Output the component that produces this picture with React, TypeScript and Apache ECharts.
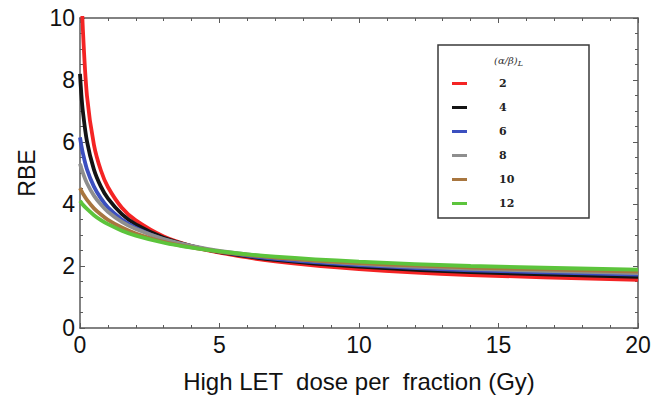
import React, { useEffect, useRef } from "react";
import * as echarts from "echarts";

// High LET dose per fraction (Gy)
const doses = [0, 0.05, 0.1, 0.25, 0.5, 0.75, 1, 1.5, 2, 3, 4, 5, 7, 10, 14, 20];
// RBE, one list per (alpha/beta)_L
const rbe2 = [14.35, 11.23, 9.7, 7.49, 5.91, 5.08, 4.55, 3.88, 3.47, 2.95, 2.64, 2.43, 2.15, 1.9, 1.71, 1.55];
const rbe4 = [8.2, 7.51, 7.01, 6.02, 5.11, 4.56, 4.18, 3.67, 3.34, 2.91, 2.64, 2.45, 2.2, 1.98, 1.8, 1.65];
const rbe6 = [6.15, 5.88, 5.65, 5.12, 4.56, 4.18, 3.89, 3.5, 3.23, 2.86, 2.63, 2.46, 2.23, 2.03, 1.86, 1.72];
const rbe8 = [5.3, 5.15, 5.01, 4.67, 4.27, 3.98, 3.75, 3.42, 3.19, 2.87, 2.65, 2.49, 2.28, 2.07, 1.91, 1.77];
const rbe10 = [4.51, 4.42, 4.34, 4.13, 3.86, 3.66, 3.49, 3.24, 3.05, 2.78, 2.6, 2.46, 2.27, 2.09, 1.95, 1.82];
const rbe12 = [4.1, 4.04, 3.98, 3.84, 3.64, 3.48, 3.35, 3.14, 2.98, 2.75, 2.59, 2.47, 2.3, 2.14, 2.0, 1.88];

const seriesNames = ["2", "4", "6", "8", "10", "12"];
const seriesValues = [rbe2, rbe4, rbe6, rbe8, rbe10, rbe12];
const seriesColors = ["#f42424", "#141414", "#3b4fbf", "#8e8e8e", "#a8763f", "#5cc43c"];

const xTitle = "High LET  dose per  fraction (Gy)";
const yTitle = "RBE";

export default function App() {
  const ref = useRef<HTMLDivElement>(null);
  useEffect(() => {
    if (!ref.current) return;
    const chart = echarts.init(ref.current, undefined, { renderer: "svg" });
    const frame = "#5a5a5a";
    const font = "'Liberation Sans', Arial, sans-serif";
    const axisCommon = {
      axisLine: { show: true, onZero: false, lineStyle: { color: frame, width: 1.5 } },
      axisTick: { show: true, inside: true, length: 5, lineStyle: { color: frame, width: 1 } },
      minorTick: { show: true, length: 3, lineStyle: { color: frame, width: 1 } },
      splitLine: { show: false },
      minorSplitLine: { show: false },
    };
    chart.setOption({
      animation: false,
      backgroundColor: "#ffffff",
      grid: { left: 80, right: 29, top: 18, bottom: 71, containLabel: false },
      xAxis: [
        {
          type: "value",
          min: 0,
          max: 20,
          interval: 5,
          position: "bottom",
          ...axisCommon,
          minorTick: { ...axisCommon.minorTick, splitNumber: 5 },
          axisLabel: { fontSize: 23, color: "#111", fontFamily: font, margin: 5 },
          name: xTitle,
          nameLocation: "middle",
          nameGap: 41,
          nameTextStyle: { fontSize: 24, color: "#111", fontFamily: font },
        },
        {
          type: "value",
          min: 0,
          max: 20,
          interval: 5,
          position: "top",
          ...axisCommon,
          minorTick: { ...axisCommon.minorTick, splitNumber: 5 },
          axisLabel: { show: false },
        },
      ],
      yAxis: [
        {
          type: "value",
          min: 0,
          max: 10,
          interval: 2,
          position: "left",
          ...axisCommon,
          minorTick: { ...axisCommon.minorTick, splitNumber: 4 },
          axisLabel: { fontSize: 23, color: "#111", fontFamily: font, margin: 5 },
          name: yTitle,
          nameLocation: "middle",
          nameGap: 40,
          nameRotate: 90,
          nameTextStyle: { fontSize: 23, color: "#111", fontFamily: font },
        },
        {
          type: "value",
          min: 0,
          max: 10,
          interval: 2,
          position: "right",
          ...axisCommon,
          minorTick: { ...axisCommon.minorTick, splitNumber: 4 },
          axisLabel: { show: false },
        },
      ],
      legend: {
        orient: "vertical",
        left: 447,
        top: 72,
        itemWidth: 15,
        itemHeight: 3,
        itemGap: 11,
        icon: "rect",
        data: seriesNames,
        textStyle: {
          fontSize: 11,
          fontWeight: "bold",
          color: "#222",
          fontFamily: "'DejaVu Serif', 'Liberation Serif', serif",
          padding: [0, 0, 0, 27],
          lineHeight: 13,
        },
      },
      graphic: [
        {
          type: "rect",
          shape: { x: 438, y: 45, width: 151, height: 173 },
          style: { fill: "#ffffff", stroke: "#3a3a3a", lineWidth: 1.5 },
          z: 0,
          zlevel: 0,
        },
        {
          type: "text",
          x: 494,
          y: 53,
          style: {
            text: "{a|(α/β)}{s|L}",
            rich: {
              a: { fontSize: 10, fontStyle: "italic", fontFamily: "'DejaVu Serif', serif", fill: "#333" },
              s: { fontSize: 8, fontStyle: "italic", fontFamily: "'DejaVu Serif', serif", fill: "#333", padding: [6, 0, 0, 0] },
            },
          },
          z: 10,
        },
      ],
      series: seriesNames.map((name, i) => ({
        name,
        type: "line",
        xAxisIndex: 0,
        yAxisIndex: 0,
        data: doses.map((d, j) => [d, seriesValues[i][j]]),
        showSymbol: false,
        symbol: "none",
        smooth: 0.3,
        clip: true,
        lineStyle: { color: seriesColors[i], width: 3.8 },
        itemStyle: { color: seriesColors[i] },
        z: 3 + i,
      })),
    });
    return () => chart.dispose();
  }, []);
  return (
    <div
      ref={ref}
      style={{ position: "absolute", left: 0, top: 0, width: 667, height: 399 }}
    />
  );
}
